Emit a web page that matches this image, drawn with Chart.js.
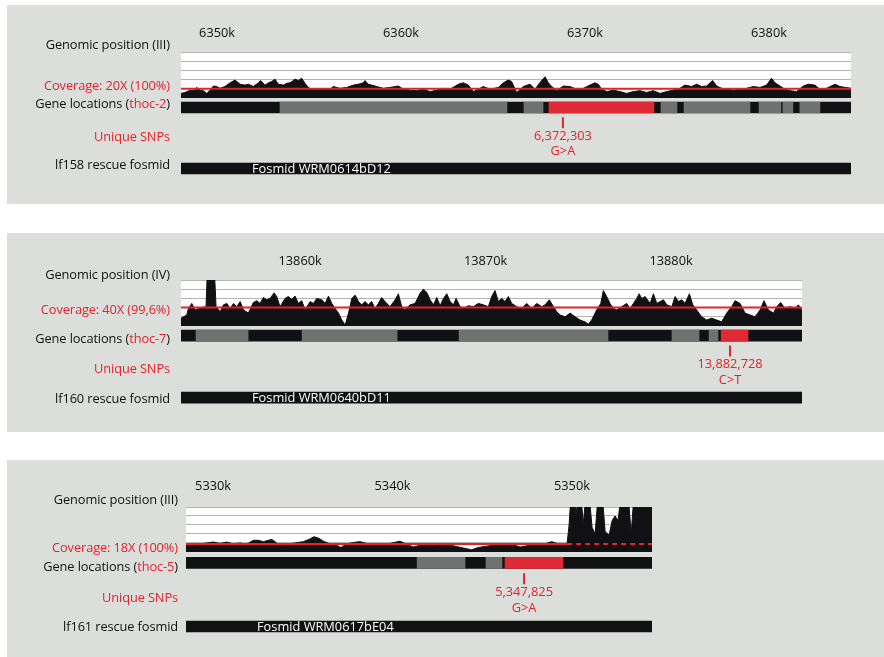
<!DOCTYPE html>
<html>
<head>
<meta charset="utf-8">
<script src="https://cdn.jsdelivr.net/npm/chart.js@4.4.1/dist/chart.umd.min.js"></script>
<style>
  body { margin:0; width:884px; height:657px; background:#fff; position:relative; overflow:hidden; font-family:'Open Sans', sans-serif; }
  .panel { position:absolute; left:7px; right:0; background:#dcdedb; }
  canvas { position:absolute; left:0; }
  .lbl { position:absolute; left:0; text-align:right; font-size:12.8px; font-weight:500; line-height:16px; color:#111; white-space:nowrap; letter-spacing:-0.1px; }
  .red { color:#e2232a; }
</style>
</head>
<body>
<div class="panel" style="top:5px;height:199px"></div>
<div class="panel" style="top:233px;height:199px"></div>
<div class="panel" style="top:460px;height:197px"></div>

<canvas id="c1" width="884" height="199" style="top:5px"></canvas>
<canvas id="c2" width="884" height="199" style="top:233px"></canvas>
<canvas id="c3" width="884" height="197" style="top:460px"></canvas>

<div class="lbl" style="top:36px;width:170px">Genomic position (III)</div>
<div class="lbl red" style="top:77px;width:170px">Coverage: 20X (100%)</div>
<div class="lbl" style="top:95px;width:170px">Gene locations (<span class="red">thoc-2</span>)</div>
<div class="lbl red" style="top:128px;width:170px">Unique SNPs</div>
<div class="lbl" style="top:156px;width:170px">lf158 rescue fosmid</div>

<div class="lbl" style="top:266px;width:170px">Genomic position (IV)</div>
<div class="lbl red" style="top:301px;width:170px">Coverage: 40X (99,6%)</div>
<div class="lbl" style="top:330px;width:170px">Gene locations (<span class="red">thoc-7</span>)</div>
<div class="lbl red" style="top:360px;width:170px">Unique SNPs</div>
<div class="lbl" style="top:390px;width:170px">lf160 rescue fosmid</div>

<div class="lbl" style="top:491px;width:178px">Genomic position (III)</div>
<div class="lbl red" style="top:539px;width:178px">Coverage: 18X (100%)</div>
<div class="lbl" style="top:558px;width:178px">Gene locations (<span class="red">thoc-5</span>)</div>
<div class="lbl red" style="top:589px;width:178px">Unique SNPs</div>
<div class="lbl" style="top:618px;width:178px">lf161 rescue fosmid</div>

<script>
// ---- panel 1: thoc-2 (III) ----
const p1Range = [6348.04, 6384.46];
const p1Ticks = [6350, 6360, 6370, 6380];
const p1CovPos = [6348.04, 6348.26, 6348.53, 6348.80, 6348.89, 6349.08, 6349.26, 6349.44, 6349.62, 6349.80,
  6349.98, 6350.16, 6350.43, 6350.71, 6350.98, 6351.25, 6351.52, 6351.70, 6351.97, 6352.25,
  6352.37, 6352.61, 6352.79, 6352.97, 6353.15, 6353.33, 6353.61, 6353.79, 6353.97, 6354.24,
  6354.42, 6354.60, 6354.78, 6354.96, 6355.14, 6355.42, 6355.78, 6356.14, 6356.32, 6356.68,
  6357.05, 6357.41, 6357.68, 6357.95, 6358.04, 6358.22, 6358.41, 6358.68, 6359.04, 6359.40,
  6359.86, 6360.13, 6360.49, 6360.85, 6361.21, 6361.58, 6361.94, 6362.30, 6362.66, 6363.12,
  6363.39, 6363.66, 6363.93, 6364.20, 6364.47, 6364.84, 6365.29, 6365.56, 6365.83, 6366.01,
  6366.29, 6366.65, 6367.01, 6367.28, 6367.64, 6367.83, 6368.01, 6368.19, 6368.46, 6368.82,
  6369.18, 6369.55, 6369.91, 6370.27, 6370.54, 6370.72, 6370.91, 6371.18, 6371.54, 6371.90,
  6372.26, 6372.63, 6372.99, 6373.35, 6373.71, 6374.08, 6374.44, 6374.80, 6375.16, 6375.43,
  6375.80, 6376.07, 6376.34, 6376.61, 6376.94, 6377.16, 6377.43, 6377.79, 6378.06, 6378.42,
  6378.79, 6379.15, 6379.51, 6379.87, 6380.14, 6380.33, 6380.60, 6380.87, 6381.14, 6381.50,
  6381.87, 6382.14, 6382.50, 6382.77, 6383.13, 6383.59, 6383.86, 6384.46];
const p1CovVal = [10, 12, 17, 17, 23, 17, 16, 10, 17, 26,
  25, 21, 25, 33, 39, 30, 28, 30, 25, 33,
  38, 28, 33, 36, 41, 30, 28, 32, 33, 41,
  38, 43, 32, 23, 19, 19, 20, 19, 25, 21,
  23, 28, 30, 33, 38, 30, 28, 25, 21, 23,
  26, 19, 17, 16, 19, 14, 17, 21, 19, 30,
  33, 28, 14, 19, 25, 19, 23, 33, 39, 36,
  12, 25, 30, 19, 38, 46, 33, 25, 16, 26,
  25, 19, 21, 28, 33, 30, 19, 14, 17, 14,
  10, 14, 16, 12, 16, 10, 14, 17, 21, 28,
  25, 30, 25, 26, 38, 26, 21, 19, 17, 19,
  21, 25, 23, 28, 43, 33, 26, 19, 16, 14,
  26, 30, 28, 19, 21, 30, 25, 21];
const p1Mean = 20;
const p1GeneStart = [6353.42, 6366.68, 6368.04, 6374.13, 6375.38, 6379.46, 6380.76, 6381.68];
const p1GeneEnd   = [6365.76, 6367.72, 6373.75, 6375.00, 6378.97, 6380.65, 6381.30, 6382.77];
const p1GeneKind  = ['gene', 'gene', 'target', 'gene', 'gene', 'gene', 'gene', 'gene'];
const p1Snp = 6368.80;
const p1SnpText = ['6,372,303', 'G>A'];
const p1Fosmid = [6348.04, 6384.46];
const p1FosmidName = 'Fosmid WRM0614bD12';

// ---- panel 2: thoc-7 (IV) ----
const p2Range = [13853.58, 13887.06];
const p2Ticks = [13860, 13870, 13880];
const p2CovPos = [13853.58, 13853.89, 13853.98, 13854.16, 13854.34, 13854.52, 13854.79, 13854.93, 13855.00, 13855.38,
  13855.47, 13855.69, 13855.87, 13856.05, 13856.23, 13856.41, 13856.59, 13856.77, 13856.95, 13857.21,
  13857.48, 13857.66, 13857.84, 13858.02, 13858.20, 13858.38, 13858.60, 13858.74, 13858.92, 13859.19,
  13859.37, 13859.55, 13859.73, 13859.91, 13860.09, 13860.27, 13860.54, 13860.72, 13860.90, 13861.17,
  13861.35, 13861.53, 13861.71, 13861.89, 13862.07, 13862.25, 13862.43, 13862.61, 13862.79, 13862.97,
  13863.15, 13863.32, 13863.50, 13863.68, 13863.86, 13864.04, 13864.22, 13864.40, 13864.58, 13864.85,
  13865.12, 13865.30, 13865.48, 13865.66, 13865.93, 13866.20, 13866.47, 13866.65, 13866.83, 13867.01,
  13867.19, 13867.37, 13867.55, 13867.73, 13867.91, 13868.09, 13868.27, 13868.41, 13868.63, 13868.81,
  13869.07, 13869.34, 13869.61, 13869.88, 13870.15, 13870.33, 13870.51, 13870.69, 13870.87, 13871.05,
  13871.23, 13871.41, 13871.68, 13871.95, 13872.22, 13872.49, 13872.76, 13873.03, 13873.21, 13873.44,
  13873.66, 13873.84, 13874.02, 13874.29, 13874.56, 13874.83, 13875.09, 13875.36, 13875.54, 13875.72,
  13875.99, 13876.21, 13876.35, 13876.53, 13876.71, 13876.89, 13877.07, 13877.34, 13877.61, 13877.79,
  13877.97, 13878.15, 13878.28, 13878.42, 13878.60, 13878.87, 13879.05, 13879.23, 13879.41, 13879.59,
  13879.77, 13880.04, 13880.22, 13880.40, 13880.58, 13880.75, 13880.99, 13881.17, 13881.38, 13881.65,
  13881.92, 13882.19, 13882.46, 13882.73, 13883.00, 13883.27, 13883.45, 13883.72, 13883.99, 13884.26,
  13884.53, 13884.80, 13885.01, 13885.25, 13885.52, 13885.70, 13885.91, 13886.15, 13886.42, 13886.69,
  13886.86, 13887.06];
const p2CovVal = [17, 24, 38, 49, 35, 38, 41, 42, 120, 120,
  42, 31, 46, 49, 38, 49, 42, 53, 35, 28,
  51, 55, 49, 62, 57, 60, 72, 64, 42, 60,
  64, 58, 65, 49, 55, 35, 53, 49, 60, 57,
  49, 65, 49, 38, 28, 13, 2, 28, 60, 67,
  53, 46, 53, 46, 53, 38, 49, 62, 53, 42,
  57, 70, 42, 36, 46, 49, 71, 80, 73, 57,
  46, 62, 44, 60, 70, 53, 46, 60, 42, 38,
  44, 42, 49, 46, 42, 64, 77, 53, 60, 53,
  64, 49, 42, 38, 49, 38, 49, 42, 46, 57,
  42, 31, 24, 20, 28, 20, 13, 9, 4, 13,
  35, 49, 77, 64, 49, 38, 35, 42, 49, 38,
  49, 60, 70, 60, 64, 49, 70, 49, 53, 57,
  46, 42, 64, 53, 57, 49, 70, 46, 35, 20,
  13, 17, 13, 9, 28, 42, 55, 49, 28, 24,
  20, 35, 55, 35, 28, 42, 51, 38, 42, 38,
  46, 35];
const p2Mean = 40;
const p2GeneStart = [13854.39, 13860.11, 13868.57, 13880.05, 13882.05, 13882.70];
const p2GeneEnd   = [13857.20, 13865.23, 13876.60, 13881.51, 13882.53, 13884.15];
const p2GeneKind  = ['gene', 'gene', 'gene', 'gene', 'gene', 'target'];
const p2Snp = 13883.18;
const p2SnpText = ['13,882,728', 'C>T'];
const p2Fosmid = [13853.58, 13887.06];
const p2FosmidName = 'Fosmid WRM0640bD11';

// ---- panel 3: thoc-5 (III) ----
const p3Range = [5328.49, 5354.46];
const p3Ticks = [5330, 5340, 5350];
const p3CovPos = [5328.49, 5328.90, 5329.27, 5329.64, 5330.01, 5330.38, 5330.76, 5331.13, 5331.50, 5331.87,
  5332.24, 5332.52, 5332.80, 5333.27, 5333.55, 5333.73, 5334.10, 5334.57, 5335.03, 5335.40,
  5335.62, 5335.92, 5336.14, 5336.52, 5336.89, 5337.11, 5337.45, 5337.81, 5338.19, 5338.65,
  5339.30, 5339.86, 5340.42, 5340.79, 5341.16, 5341.72, 5342.27, 5343.02, 5343.58, 5344.04,
  5344.41, 5344.78, 5345.25, 5345.99, 5346.73, 5347.11, 5347.66, 5348.32, 5348.87, 5349.24,
  5349.62, 5349.73, 5349.84, 5349.95, 5350.12, 5350.23, 5350.34, 5350.51, 5350.62, 5350.79,
  5350.95, 5351.12, 5351.29, 5351.46, 5351.68, 5351.85, 5352.07, 5352.24, 5352.40, 5352.57,
  5352.74, 5353.13, 5353.30, 5353.46, 5354.08, 5354.19, 5354.36, 5354.46];
const p3CovVal = [17, 15, 18, 20, 22, 19, 22, 18, 20, 17,
  26, 26, 23, 28, 20, 14, 18, 20, 23, 29,
  34, 30, 24, 18, 15, 10, 18, 21, 23, 18,
  17, 19, 24, 17, 11, 17, 15, 17, 12, 8,
  5, 10, 13, 17, 16, 11, 15, 16, 23, 18,
  17, 20, 60, 130, 130, 80, 130, 130, 60, 130,
  130, 55, 40, 130, 130, 45, 38, 70, 80, 70,
  130, 130, 40, 130, 130, 95, 130, 130];
const p3Mean = 18;
const p3MeanDashFrom = 5349.73;
const p3GeneStart = [5341.37, 5345.21, 5346.27];
const p3GeneEnd   = [5344.04, 5346.10, 5349.50];
const p3GeneKind  = ['gene', 'gene', 'target'];
const p3Snp = 5347.33;
const p3SnpText = ['5,347,825', 'G>A'];
const p3Fosmid = [5328.49, 5354.46];
const p3FosmidName = 'Fosmid WRM0617bE04';

const rows = ['gene', 'snp', 'position', 'change', 'fosmid'];
const covTicks = [20, 40, 60, 80, 100];

const BLACK = '#111113', GRAY = '#707272', RED = '#e2232a', GENE_RED = '#df2a35';
const FONT = "'Open Sans', sans-serif";

Chart.defaults.font.family = FONT;
Chart.defaults.color = '#111';

// white coverage band + SNP and fosmid texts
const trackPlugin = {
  id: 'tracks',
  beforeDraw(chart) {
    const {ctx, chartArea, scales} = chart;
    const top = scales.y.getPixelForValue(100), bot = scales.y.getPixelForValue(0);
    ctx.save();
    ctx.fillStyle = '#fff';
    ctx.fillRect(chartArea.left, top, chartArea.right - chartArea.left, bot - top);
    ctx.restore();
  },
  afterDatasetsDraw(chart, args, opts) {
    const {ctx, scales} = chart;
    ctx.save();
    ctx.font = '500 12.8px ' + FONT;
    ctx.textBaseline = 'middle';
    ctx.textAlign = 'center';
    ctx.fillStyle = RED;
    const sx = scales.x.getPixelForValue(opts.snp);
    ctx.fillText(opts.snpText[0], sx, scales.yt.getPixelForValue(rows.indexOf('position')) - 2);
    ctx.fillText(opts.snpText[1], sx, scales.yt.getPixelForValue(rows.indexOf('change')) - 2);
    ctx.textAlign = 'left';
    ctx.fillStyle = '#fff';
    ctx.fillText(opts.fosmidName, scales.x.getPixelForValue(opts.fosmid[0]) + 71,
      scales.yt.getPixelForValue(rows.indexOf('fosmid')) + 0.5);
    ctx.restore();
  }
};

function drawPanel(id, p, lay) {
  const cov = p.covPos.map((x, i) => ({x: x, y: p.covVal[i]}));
  const meanPts = [{x: p.range[0], y: p.mean}];
  if (p.dashFrom != null) meanPts.push({x: p.dashFrom, y: p.mean});
  meanPts.push({x: p.range[1], y: p.mean});
  const genes = p.geneStart.map((s, i) => ({x: [s, p.geneEnd[i]], y: 'gene'}));
  const geneColors = p.geneKind.map(k => k === 'target' ? GENE_RED : GRAY);

  new Chart(document.getElementById(id), {
    type: 'line',
    data: {
      datasets: [
        { type: 'line', data: cov, yAxisID: 'y', borderColor: BLACK, borderWidth: 1,
          backgroundColor: BLACK, fill: 'origin', pointRadius: 0, tension: 0, order: 5 },
        { type: 'line', data: meanPts, yAxisID: 'y', borderColor: RED, borderWidth: 2,
          pointRadius: 0, fill: false, order: 1,
          segment: { borderDash: ctx => (p.dashFrom != null && ctx.p0.parsed.x >= p.dashFrom) ? [5, 4] : undefined } },
        { type: 'bar', indexAxis: 'y', yAxisID: 'yt', data: [{x: p.range, y: 'gene'}],
          backgroundColor: BLACK, barThickness: 11, grouped: false, order: 4 },
        { type: 'bar', indexAxis: 'y', yAxisID: 'yt', data: genes,
          backgroundColor: geneColors, barThickness: 11, grouped: false, order: 3 },
        { type: 'bar', indexAxis: 'y', yAxisID: 'yt', data: [{x: p.fosmid, y: 'fosmid'}],
          backgroundColor: BLACK, barThickness: 11, grouped: false, order: 3 },
        { type: 'line', yAxisID: 'yt', data: [{x: p.snp, y: 'snp'}], showLine: false,
          pointStyle: 'line', pointRotation: 90, pointRadius: 5.5,
          pointBorderColor: RED, pointBorderWidth: 2, order: 0 }
      ]
    },
    options: {
      responsive: false,
      animation: false,
      layout: { padding: { left: lay.left, right: lay.right, top: 0, bottom: lay.bottom } },
      plugins: {
        legend: { display: false },
        tooltip: { enabled: false },
        tracks: { snp: p.snp, snpText: p.snpText, fosmid: p.fosmid, fosmidName: p.fosmidName }
      },
      scales: {
        x: {
          type: 'linear', position: 'top', min: p.range[0], max: p.range[1], beginAtZero: false,
          afterBuildTicks: s => { s.ticks = p.ticks.map(v => ({value: v})); },
          afterFit: s => { s.height = 47; },
          ticks: { callback: v => v + 'k', autoSkip: false, maxRotation: 0, padding: lay.tickPad,
                   font: { size: 12.8, weight: 500 }, color: '#111' },
          grid: { display: false, drawTicks: false },
          border: { display: false }
        },
        yt: {
          type: 'category', axis: 'y', labels: rows, position: 'left', offset: true,
          stack: 'panel', stackWeight: lay.trackH,
          ticks: { display: false }, grid: { display: false, drawTicks: false }, border: { display: false }
        },
        y: {
          type: 'linear', position: 'left', min: lay.covMin, max: 100,
          stack: 'panel', stackWeight: lay.covH,
          afterBuildTicks: s => { s.ticks = covTicks.map(v => ({value: v})); },
          ticks: { display: false },
          grid: { color: '#b4b4b4', lineWidth: 1, drawTicks: false },
          border: { display: false }
        }
      }
    },
    plugins: [trackPlugin]
  });
}

drawPanel('c1', { range: p1Range, ticks: p1Ticks, covPos: p1CovPos, covVal: p1CovVal, mean: p1Mean,
  geneStart: p1GeneStart, geneEnd: p1GeneEnd, geneKind: p1GeneKind, snp: p1Snp, snpText: p1SnpText,
  fosmid: p1Fosmid, fosmidName: p1FosmidName },
  { left: 181, right: 33, bottom: 27.9, tickPad: 11.3, covMin: -4, covH: 47.84, trackH: 76.25 });

drawPanel('c2', { range: p2Range, ticks: p2Ticks, covPos: p2CovPos, covVal: p2CovVal, mean: p2Mean,
  geneStart: p2GeneStart, geneEnd: p2GeneEnd, geneKind: p2GeneKind, snp: p2Snp, snpText: p2SnpText,
  fosmid: p2Fosmid, fosmidName: p2FosmidName },
  { left: 181, right: 82, bottom: 26.7, tickPad: 11.3, covMin: -4, covH: 47.84, trackH: 77.5 });

drawPanel('c3', { range: p3Range, ticks: p3Ticks, covPos: p3CovPos, covVal: p3CovVal, mean: p3Mean,
  dashFrom: p3MeanDashFrom,
  geneStart: p3GeneStart, geneEnd: p3GeneEnd, geneKind: p3GeneKind, snp: p3Snp, snpText: p3SnpText,
  fosmid: p3Fosmid, fosmidName: p3FosmidName },
  { left: 186, right: 232, bottom: 22.6, tickPad: 13.3, covMin: -6.7, covH: 48, trackH: 79.4 });
</script>
</body>
</html>
